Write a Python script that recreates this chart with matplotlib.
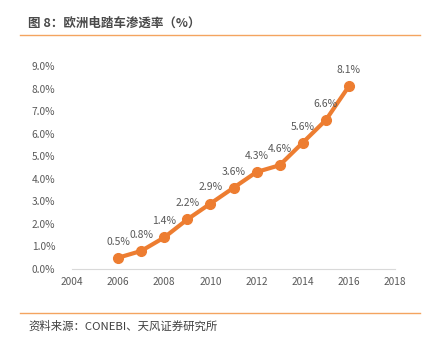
import matplotlib
matplotlib.use("Agg")
import matplotlib.pyplot as plt

plt.rcParams['font.family'] = ['Noto Sans CJK SC', 'DejaVu Sans']

years = [2006, 2007, 2008, 2009, 2010, 2011, 2012, 2013, 2014, 2015, 2016]
values = [0.5, 0.8, 1.4, 2.2, 2.9, 3.6, 4.3, 4.6, 5.6, 6.6, 8.1]
xticks = [2004, 2006, 2008, 2010, 2012, 2014, 2016, 2018]
yticks = [0, 1, 2, 3, 4, 5, 6, 7, 8, 9]
title = "图 8：欧洲电踏车渗透率（%）"
source = "资料来源：CONEBI、天风证券研究所"

orange = '#ED7D31'
gray = '#595959'

fig = plt.figure(figsize=(4.32, 3.38), dpi=100)
ax = fig.add_axes([72/432, 1-269/338, (395-72)/432, (269-66)/338])
ax.plot(years, values, color=orange, lw=3, marker='o', ms=7, zorder=3)
for x, v in zip(years, values):
    ax.annotate(f"{v:.1f}%", (x, v), xytext=(0, 8), textcoords='offset points',
                ha='center', va='bottom', fontsize=7.5, color=gray)
ax.set_xlim(2004, 2018)
ax.set_ylim(0, 9)
ax.set_xticks(xticks)
ax.set_yticks(yticks)
ax.set_yticklabels([f"{t:.1f}%" for t in yticks])
for s in ['top', 'right', 'left']:
    ax.spines[s].set_visible(False)
ax.spines['bottom'].set_color('#D9D9D9')
ax.tick_params(length=0, labelsize=7.3, colors=gray, pad=6)
ax.tick_params(axis='y', pad=12)

fig.text(28/432, 1-23/338, title, fontsize=9, color='#4a4a4a', fontweight='bold', va='center')
fig.add_artist(plt.Line2D([20/432, 420/432], [1-35/338, 1-35/338], color='#F4A460', lw=1))
fig.add_artist(plt.Line2D([20/432, 420/432], [1-313/338, 1-313/338], color='#F4A460', lw=1))
fig.text(28/432, 1-326/338, source, fontsize=8.2, color='#404040', va='center')

fig.savefig('out.png', dpi=100)
